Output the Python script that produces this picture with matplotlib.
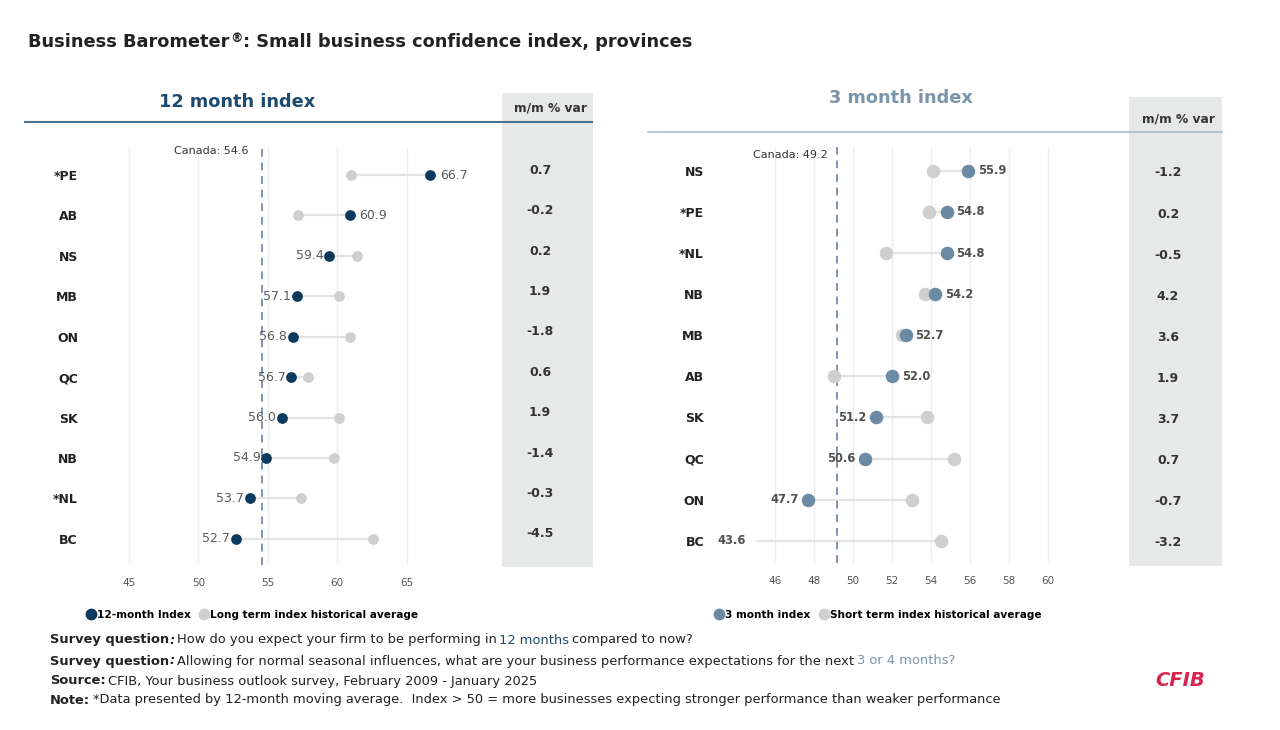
import matplotlib
matplotlib.use("Agg")
import numpy as np
import matplotlib.pyplot as plt
import matplotlib.transforms as mtransforms
from matplotlib.patches import Rectangle
from matplotlib.lines import Line2D

plt.rcParams["font.family"] = ["DejaVu Sans"]

# 12 month index
prov_12 = ["*PE", "AB", "NS", "MB", "ON", "QC", "SK", "NB", "*NL", "BC"]
index_12 = [66.7, 60.9, 59.4, 57.1, 56.8, 56.7, 56.0, 54.9, 53.7, 52.7]
avg_12 = [61.0, 57.2, 61.4, 60.1, 60.9, 57.9, 60.1, 59.8, 57.4, 62.6]
var_12 = [0.7, -0.2, 0.2, 1.9, -1.8, 0.6, 1.9, -1.4, -0.3, -4.5]
canada_12 = 54.6
ticks_12 = [45, 50, 55, 60, 65]

# 3 month index
prov_3 = ["NS", "*PE", "*NL", "NB", "MB", "AB", "SK", "QC", "ON", "BC"]
index_3 = [55.9, 54.8, 54.8, 54.2, 52.7, 52.0, 51.2, 50.6, 47.7, 43.6]
avg_3 = [54.1, 53.9, 51.7, 53.7, 52.5, 49.0, 53.8, 55.2, 53.0, 54.5]
var_3 = [-1.2, 0.2, -0.5, 4.2, 3.6, 1.9, 3.7, 0.7, -0.7, -3.2]
canada_3 = 49.2
ticks_3 = [46, 48, 50, 52, 54, 56, 58, 60]

NAVY = "#0c3a5e"
STEEL = "#6c8aa3"
GREY_DOT = "#cfcfcf"
COL_BG = "#e7e8e8"

W, H = 1280, 730
fig = plt.figure(figsize=(12.8, 7.3), dpi=100)


def fx(x):
    return x / W


def fy(y):
    return 1 - y / H


def rect(l, t, r, b):
    return [fx(l), fy(b), (r - l) / W, (b - t) / H]


bg = fig.add_axes([0, 0, 1, 1], zorder=-1)
bg.axis("off")


def panel(ax, provs, idx, avg, var, canada, xlim, ylim, ticks, dot, size,
          lab_kw, offs, ypad, col_x, col_dy, can_off):
    y = np.arange(len(provs))
    idx = np.array(idx)
    avg = np.array(avg)
    ax.set_xlim(xlim)
    ax.set_ylim(ylim)
    ax.hlines(y, np.minimum(idx, avg), np.maximum(idx, avg), color="#e3e3e3", lw=1.6, zorder=1)
    ax.scatter(avg, y, s=size, color=GREY_DOT, linewidths=0, zorder=2)
    ax.scatter(idx, y, s=size, color=dot, linewidths=0, zorder=3)
    ax.axvline(canada, color="#8193ae", lw=1.4, ls=(0, (4, 3)), zorder=1.5)
    for yi, v, a in zip(y, idx, avg):
        xp = max(v, xlim[0])
        if a <= v:
            ax.annotate(f"{v:.1f}", (xp, yi), xytext=(offs[1], 0), textcoords="offset points",
                        ha="left", va="center", **lab_kw)
        else:
            ax.annotate(f"{v:.1f}", (xp, yi), xytext=(offs[0], 0), textcoords="offset points",
                        ha="right", va="center", annotation_clip=False, **lab_kw)
    ax.annotate(f"Canada: {canada}", (canada, 1), xycoords=ax.get_xaxis_transform(),
                xytext=can_off, textcoords="offset points", ha="right", va="center",
                fontsize=8, color="#333333", annotation_clip=False)
    ax.set_xticks(ticks)
    ax.set_yticks(y, provs, fontweight="bold", fontsize=9, color="#222222")
    ax.tick_params(axis="both", length=0, labelsize=7.5, labelcolor="#555555", pad=9)
    ax.tick_params(axis="y", pad=ypad, labelsize=9, labelcolor="#222222")
    ax.grid(axis="x", color="#ececec", lw=0.9)
    ax.set_axisbelow(True)
    for s in ax.spines.values():
        s.set_visible(False)
    tr = mtransforms.blended_transform_factory(fig.transFigure, ax.transData)
    for yi, v in zip(y, var):
        fig.text(fx(col_x), yi + col_dy, f"{v:.1f}", transform=tr, ha="center", va="center",
                 fontsize=9, fontweight="bold", color="#333333")


ax1 = fig.add_axes(rect(87.4, 148, 462, 565))
panel(ax1, prov_12, index_12, avg_12, var_12, canada_12, (42, 69), (9.65, -0.67), ticks_12,
      NAVY, 60, dict(fontsize=9, color="#5b5b5b"), (-4, 7), 6.8, 540, -0.12, (-10, -2))

ax2 = fig.add_axes(rect(755.5, 147, 1087, 563))
panel(ax2, prov_3, index_3, avg_3, var_3, canada_3, (45, 62), (9.54, -0.58), ticks_3,
      STEEL, 95, dict(fontsize=8.3, color="#505050", fontweight="bold"), (-7, 7), 37, 1168, 0.05, (-7, -6))

# m/m columns
for l, t, r, b in [(502, 93, 593, 567), (1129, 97, 1222, 566)]:
    fig.add_artist(Rectangle((fx(l), fy(b)), (r - l) / W, (b - t) / H, transform=fig.transFigure,
                             facecolor=COL_BG, edgecolor="none", zorder=-2))
fig.text(fx(551), fy(108), "m/m % var", ha="center", va="center", fontsize=8.8, fontweight="bold", color="#333333")
fig.text(fx(1179), fy(119), "m/m % var", ha="center", va="center", fontsize=8.8, fontweight="bold", color="#333333")

# panel headings
fig.text(fx(237), fy(102), "12 month index", ha="center", va="center", fontsize=12.8, fontweight="bold", color="#1d4a6e")
fig.text(fx(901), fy(98), "3 month index", ha="center", va="center", fontsize=12.8, fontweight="bold", color="#7a95ab")
fig.add_artist(Line2D([fx(25), fx(592)], [fy(122), fy(122)], color="#4b7192", lw=1.5))
fig.add_artist(Line2D([fx(648), fx(1222)], [fy(132), fy(132)], color="#a9bdcc", lw=1.2))

# legends
for x, y, c, labs in [(88, 615, NAVY, ["12-month Index", "Long term index historical average"]),
                      (716, 615, STEEL, ["3 month index", "Short term index historical average"])]:
    hs = [Line2D([], [], marker="o", ls="", color=c, markersize=7.5),
          Line2D([], [], marker="o", ls="", color=GREY_DOT, markersize=7.5)]
    fig.legend(hs, labs, loc="center left", bbox_to_anchor=(fx(x), fy(y)), ncol=2, frameon=False,
               handlelength=0.6, handletextpad=0.25, columnspacing=1.0, borderpad=0, borderaxespad=0,
               prop={"weight": "bold", "size": 7.6})


def rich(x, y, parts, size):
    prev = None
    for s, kw in parts:
        gap = (len(s) - len(s.lstrip(" "))) * size * 0.2
        if prev is None:
            prev = bg.annotate(s, (fx(x), fy(y)), xycoords="figure fraction", ha="left", va="center",
                               fontsize=size, **kw)
        else:
            prev = bg.annotate(s.lstrip(" "), (1, 0), xycoords=prev, xytext=(gap, 0), textcoords="offset points",
                               ha="left", va="bottom", fontsize=size, **kw)
    return prev


# title
t1 = bg.annotate("Business Barometer", (fx(28), fy(42)), xycoords="figure fraction", ha="left", va="center",
                 fontsize=12.8, fontweight="bold", color="#222222")
t2 = bg.annotate("®", (1, 1), xycoords=t1, xytext=(0.5, 1), textcoords="offset points", ha="left", va="top",
                 fontsize=9, fontweight="bold", color="#222222")
bg.annotate(": Small business confidence index, provinces", (1, 0), xycoords=(t2, t1), ha="left", va="bottom",
            fontsize=12.8, fontweight="bold", color="#222222")

B = dict(fontweight="bold", color="#222222")
BI = dict(fontweight="bold", fontstyle="italic", color="#222222")
N = dict(color="#222222")
fs = 9.4
rich(50, 640, [("Survey question", B), (":", BI), (" How do you expect your firm to be performing in", N),
               (" 12 months", dict(color="#1d4a6e")), (" compared to now?", N)], fs)
rich(50, 661, [("Survey question", B), (":", BI),
               (" Allowing for normal seasonal influences, what are your business performance expectations for the next", N),
               (" 3 or 4 months?", dict(color="#7a95ab"))], fs)
rich(50, 681, [("Source:", B), (" CFIB, Your business outlook survey, February 2009 - January 2025", N)], fs)
rich(50, 700, [("Note:", B), (" *Data presented by 12-month moving average.  Index > 50 = more businesses expecting "
                              "stronger performance than weaker performance", N)], fs)

fig.text(fx(1180), fy(681), "CFIB", ha="center", va="center", fontsize=14, fontweight="bold",
         fontstyle="italic", color="#d6264f")

fig.savefig("out.png", dpi=100)
